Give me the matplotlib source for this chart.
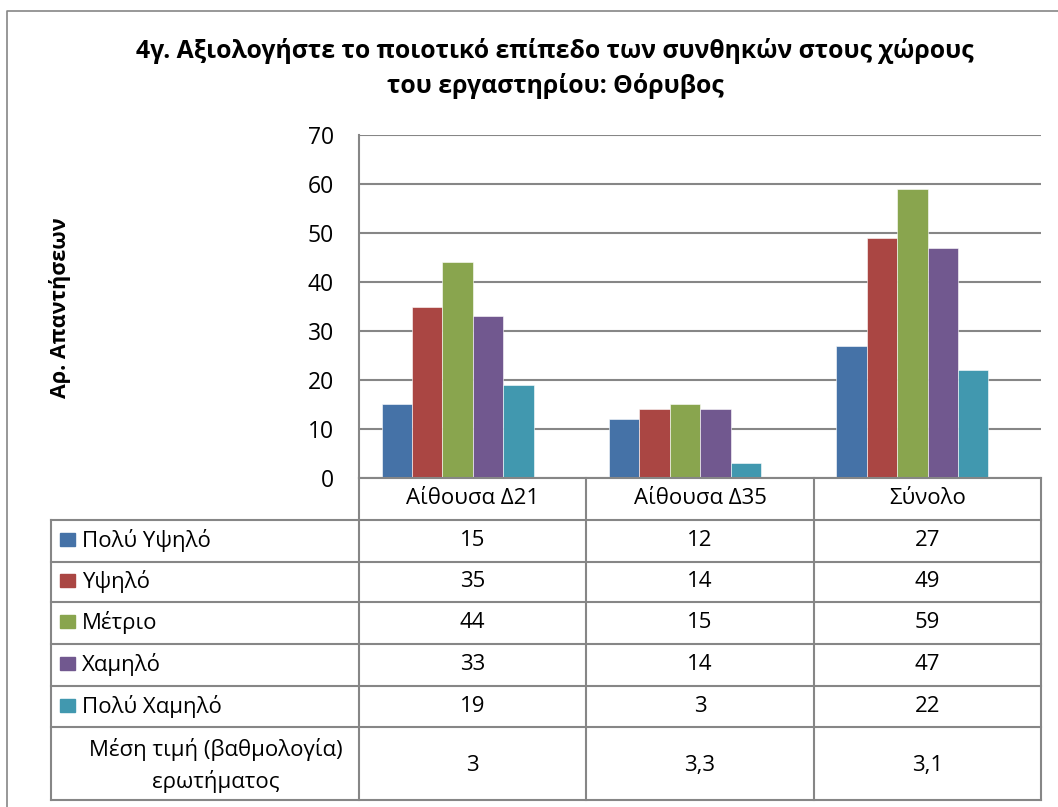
import matplotlib
matplotlib.use("Agg")
import matplotlib.pyplot as plt
import numpy as np

plt.rcParams['font.family'] = ['Open Sans', 'DejaVu Sans']

# ---- data ----
categories = ["Αίθουσα Δ21", "Αίθουσα Δ35", "Σύνολο"]
series_names = ["Πολύ Υψηλό", "Υψηλό", "Μέτριο", "Χαμηλό", "Πολύ Χαμηλό"]
values = {
    "Πολύ Υψηλό": [15, 12, 27],
    "Υψηλό": [35, 14, 49],
    "Μέτριο": [44, 15, 59],
    "Χαμηλό": [33, 14, 47],
    "Πολύ Χαμηλό": [19, 3, 22],
}
mean_label = "Μέση τιμή (βαθμολογία)\nερωτήματος"
mean_values = ["3", "3,3", "3,1"]
colors = ["#4572A7", "#AA4643", "#89A54E", "#71588F", "#4198AF"]
title = "4γ. Αξιολογήστε το ποιοτικό επίπεδο των συνθηκών στους χώρους\nτου εργαστηρίου: Θόρυβος"
ylabel = "Αρ. Απαντήσεων"

W, H = 1058, 807
fig = plt.figure(figsize=(W / 100, H / 100), dpi=100)

# plot area in pixels
L, R, T, B = 359, 1041, 135, 478
ax = fig.add_axes([L / W, 1 - B / H, (R - L) / W, (B - T) / H])

grid_c = "#868686"
n = len(series_names)
bw = 0.1335
shift = -0.066
x = np.arange(len(categories))
for i, s in enumerate(series_names):
    ax.bar(x + shift + (i - (n - 1) / 2) * bw, values[s], width=bw, color=colors[i],
           edgecolor="white", linewidth=0.4, zorder=3)

ax.set_xlim(-0.5, len(categories) - 0.5)
ax.set_ylim(0, 70)
ax.set_yticks(np.arange(0, 71, 10))
ax.yaxis.grid(True, color=grid_c, linewidth=1.5, zorder=0)
ax.set_axisbelow(True)
ax.set_xticks([])
ax.tick_params(axis='y', length=0, pad=18, labelsize=16.5, labelcolor="black")
for sp in ["top", "right", "bottom"]:
    ax.spines[sp].set_visible(False)
ax.spines["left"].set_color(grid_c)
ax.spines["left"].set_linewidth(1.5)

# overlay in pixel coordinates
ov = fig.add_axes([0, 0, 1, 1], zorder=5)
ov.set_xlim(0, W)
ov.set_ylim(H, 0)
ov.axis("off")
ov.patch.set_alpha(0)

# title and y label
t1, t2 = title.split("\n")
ov.text(555, 51, t1, ha="center", va="center", fontsize=17.8, fontweight="bold")
ov.text(555, 86, t2, ha="center", va="center", fontsize=17.8, fontweight="bold")
ov.text(60, 308, ylabel, ha="center", va="center", rotation=90, fontsize=15.5, fontweight="bold")

# outer chart border
ov.plot([7, 7, W], [H, 11, 11], color=grid_c, lw=1.2)

# table geometry
col_w = (R - L) / len(categories)
col_edges = [L + k * col_w for k in range(len(categories) + 1)]
col_centers = [L + (k + 0.5) * col_w for k in range(len(categories))]
tab_left = 51
row_edges = [478, 520, 561.5, 602, 643.5, 685.5, 727, 800]

lc = grid_c
lw = 1.5
ov.plot([L, R], [row_edges[0], row_edges[0]], color=lc, lw=lw)
for xe in col_edges:
    ov.plot([xe, xe], [row_edges[0], row_edges[-1]], color=lc, lw=lw)
for ye in row_edges[1:]:
    ov.plot([tab_left, R], [ye, ye], color=lc, lw=lw)
ov.plot([tab_left, tab_left], [row_edges[1], row_edges[-1]], color=lc, lw=lw)

fs = 16
for k, c in enumerate(categories):
    ov.text(col_centers[k], (row_edges[0] + row_edges[1]) / 2, c, ha="center", va="center", fontsize=fs)

for i, s in enumerate(series_names):
    yc = (row_edges[i + 1] + row_edges[i + 2]) / 2
    ov.add_patch(plt.Rectangle((60, yc - 7.5), 15, 13, color=colors[i]))
    ov.text(82, yc, s, ha="left", va="center", fontsize=fs)
    for k in range(len(categories)):
        ov.text(col_centers[k], yc, str(values[s][k]), ha="center", va="center", fontsize=fs)

yc = (row_edges[-2] + row_edges[-1]) / 2
ov.text(216, yc + 2, mean_label, ha="center", va="center", fontsize=fs, linespacing=1.45,
        multialignment="center")
for k in range(len(categories)):
    ov.text(col_centers[k], yc + 2, mean_values[k], ha="center", va="center", fontsize=fs)

fig.savefig("out.png", dpi=100)
